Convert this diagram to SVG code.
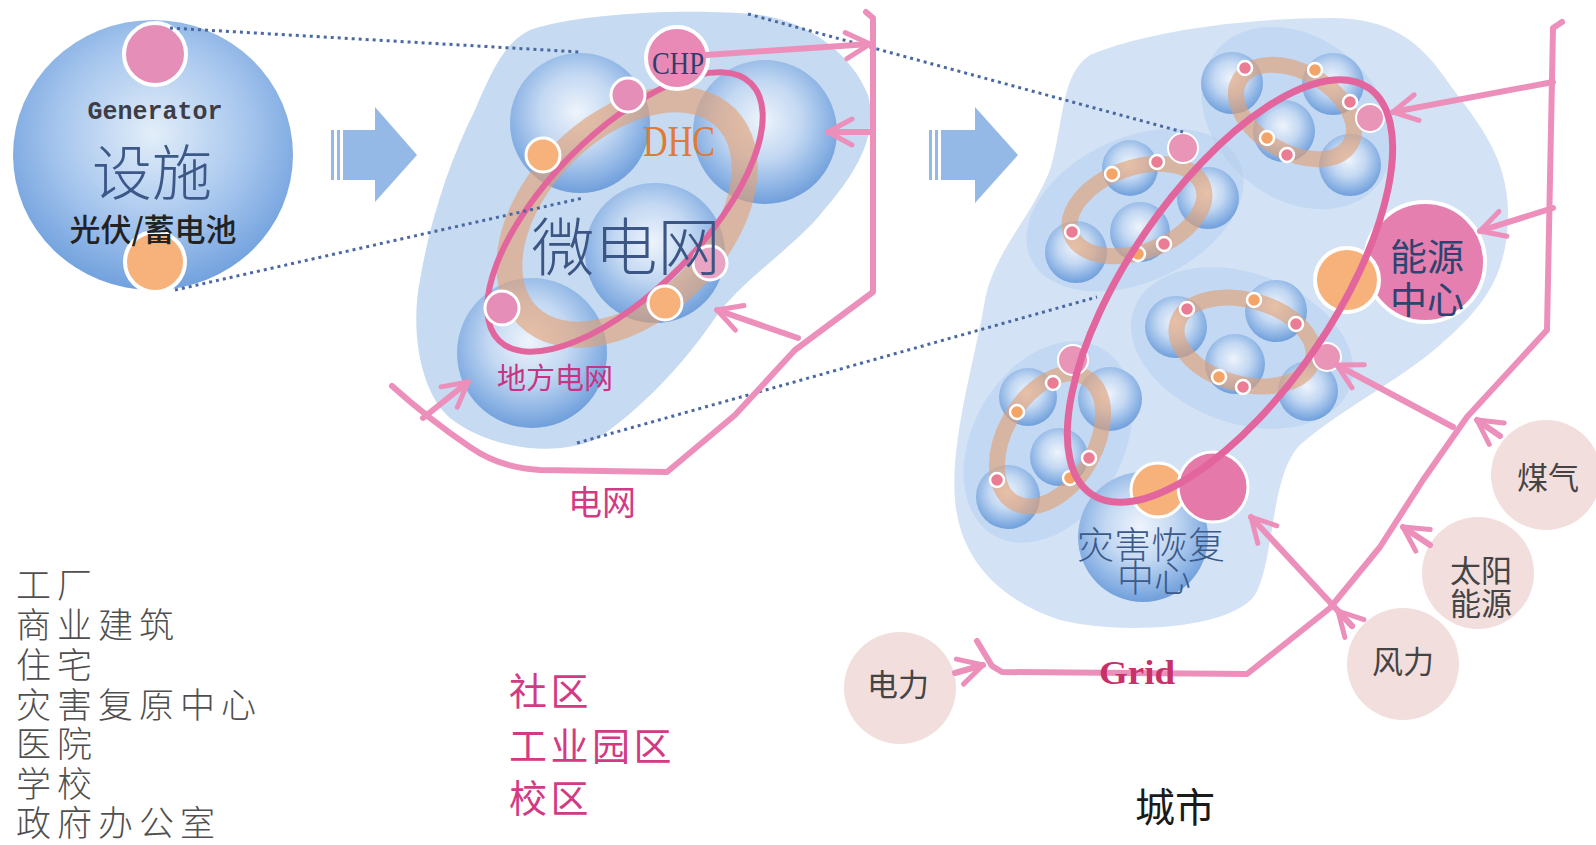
<svg xmlns="http://www.w3.org/2000/svg" width="1596" height="845" viewBox="0 0 1596 845">
<defs>
  <radialGradient id="sphere" cx="0.48" cy="0.42" r="0.6">
    <stop offset="0" stop-color="#eef4fc"/>
    <stop offset="0.45" stop-color="#c3d8f2"/>
    <stop offset="0.8" stop-color="#8ab2e4"/>
    <stop offset="1" stop-color="#6b9bd9"/>
  </radialGradient>
  <radialGradient id="genGrad" cx="0.5" cy="0.42" r="0.6">
    <stop offset="0" stop-color="#e3eef9"/>
    <stop offset="0.55" stop-color="#a8c7ee"/>
    <stop offset="1" stop-color="#6d9edc"/>
  </radialGradient>
  <marker id="chev" viewBox="-32 -20 38 40" refX="0" refY="0" markerWidth="38" markerHeight="40" markerUnits="userSpaceOnUse" orient="auto">
    <path d="M-24,-13 L0,0 L-24,13" fill="none" stroke="#ec90bb" stroke-width="5" stroke-linecap="round" stroke-linejoin="round"/>
  </marker>
</defs>
<style>
  .cjk{font-family:"Noto Sans CJK SC","Noto Sans",sans-serif}
  .serif{font-family:"Liberation Serif","Times New Roman",serif}
  .sph{fill:url(#sphere)}
  .cbg{fill:#b7cfee;opacity:.55}
  .oring{fill:none;stroke:#e3a073;stroke-opacity:.62}
  .pring{fill:none;stroke:#e2659d}
  .dotO{fill:#f3a466;stroke:#fff;stroke-width:2.5}
  .dotP{fill:#ea7c93;stroke:#fff;stroke-width:2.5}
  .wire{fill:none;stroke:#ec90bb;stroke-width:6;stroke-linecap:round;stroke-linejoin:round}
  .arr{marker-end:url(#chev)}
  .dots{fill:none;stroke:#4a69a3;stroke-width:3;stroke-dasharray:3 4}
  .src{fill:#f3dede}
  .srcTxt{fill:#444;font-size:31px;text-anchor:middle}
  .block{fill:#95b9e6}
  .list{fill:#4f4f4f;font-size:35px;letter-spacing:6px;font-weight:300}
  .zone{fill:#d23b84;font-size:38px;letter-spacing:3.5px}
</style>

<rect width="1596" height="845" fill="#ffffff"/>

<!-- generator / facility -->
<g id="generator">
  <ellipse cx="153" cy="155" rx="140" ry="135" fill="url(#genGrad)"/>
  <circle cx="155" cy="54" r="31" fill="#e58fb8" stroke="#fff" stroke-width="4"/>
  <circle cx="155" cy="262" r="30" fill="#f6b27a" stroke="#fff" stroke-width="4"/>
  <text x="155" y="119" text-anchor="middle" font-family="Liberation Mono, Courier New, monospace" font-weight="bold" font-size="25" fill="#3d3d47">Generator</text>
  <text x="152" y="195" text-anchor="middle" class="cjk" font-size="60" font-weight="300" fill="#3b5889">设施</text>
  <text x="153" y="241" text-anchor="middle" class="cjk" font-size="31" font-weight="500" fill="#222">光伏/蓄电池</text>
</g>

<!-- block arrows -->
<g id="step-arrow-1" class="block">
  <rect x="331" y="130" width="3" height="50"/>
  <rect x="337" y="130" width="3" height="50"/>
  <rect x="343" y="130" width="33" height="50"/>
  <polygon points="375,107 417,155 375,202"/>
</g>
<g id="step-arrow-2" class="block">
  <rect x="929" y="130" width="3" height="50"/>
  <rect x="935" y="130" width="3" height="50"/>
  <rect x="941" y="130" width="35" height="50"/>
  <polygon points="975,107 1018,155 975,203"/>
</g>

<!-- microgrid -->
<g id="microgrid">
  <path d="M530,30 C580,12 700,8 760,15 C810,22 852,55 868,95 C880,140 850,180 820,215 C790,250 740,282 715,318 C690,355 650,402 600,437 C560,458 490,450 450,418 C420,392 410,330 420,280 C430,220 450,160 475,110 C492,70 505,42 530,30 Z" fill="#c6daf1"/>
  <circle class="sph" cx="580" cy="123" r="70"/>
  <circle class="sph" cx="765" cy="132" r="72"/>
  <circle class="sph" cx="655" cy="253" r="70"/>
  <circle class="sph" cx="532" cy="353" r="75"/>
  <ellipse class="oring" cx="627" cy="217" rx="140" ry="90" transform="rotate(-45 627 217)" stroke-width="26"/>
  <ellipse class="pring" cx="625" cy="212" rx="180" ry="78" transform="rotate(-45.6 625 212)" stroke-width="6"/>
  <circle cx="628" cy="95" r="17" fill="#e58fb8" stroke="#fff" stroke-width="3"/>
  <circle cx="543" cy="155" r="17" fill="#f6b27a" stroke="#fff" stroke-width="3"/>
  <circle cx="710" cy="263" r="17" fill="#e9a3c3" stroke="#fff" stroke-width="3"/>
  <circle cx="665" cy="303" r="17" fill="#f6b27a" stroke="#fff" stroke-width="3"/>
  <circle cx="502" cy="308" r="17" fill="#e58fb8" stroke="#fff" stroke-width="3"/>
  <text x="679" y="156" text-anchor="middle" class="serif" font-size="44" textLength="72" lengthAdjust="spacingAndGlyphs" fill="#e07a34">DHC</text>
  <text x="626" y="270" text-anchor="middle" class="cjk" font-size="63" font-weight="300" fill="#3b5585">微电网</text>
  <text x="497" y="389" class="cjk" font-size="29" fill="#c83383">地方电网</text>
</g>
<g id="chp">
  <circle cx="677" cy="58" r="31" fill="#e88ab5" stroke="#fff" stroke-width="4"/>
  <text x="678" y="74" text-anchor="middle" class="serif" font-size="32" textLength="52" lengthAdjust="spacingAndGlyphs" fill="#2c3e6e">CHP</text>
</g>
<g id="grid-label-mid">
  <text x="568" y="515" class="cjk" font-size="34" fill="#d23a86">电网</text>
</g>

<!-- city -->
<g id="city">
  <path d="M1090,55 C1150,30 1250,18 1330,18 C1390,18 1420,40 1450,85 C1480,125 1510,160 1508,220 C1506,280 1480,310 1440,345 C1400,380 1340,410 1300,445 C1270,475 1275,560 1255,595 C1230,630 1120,635 1060,620 C1000,600 960,560 955,500 C950,440 975,360 985,300 C995,250 1030,220 1050,170 C1065,120 1060,75 1090,55 Z" fill="#d3e3f5"/>
  <ellipse class="cbg" cx="1297" cy="118" rx="105" ry="80" transform="rotate(40 1297 118)"/>
  <ellipse class="cbg" cx="1135" cy="210" rx="115" ry="72" transform="rotate(-25 1135 210)"/>
  <ellipse class="cbg" cx="1242" cy="348" rx="115" ry="75" transform="rotate(20 1242 348)"/>
  <ellipse class="cbg" cx="1048" cy="442" rx="108" ry="75" transform="rotate(-60 1048 442)"/>
</g>
<g id="cluster-1">
  <circle class="sph" cx="1232" cy="83" r="31"/>
  <circle class="sph" cx="1333" cy="84" r="31"/>
  <circle class="sph" cx="1284" cy="131" r="31"/>
  <circle class="sph" cx="1350" cy="165" r="31"/>
  <ellipse class="oring" cx="1295" cy="112" rx="64" ry="40" transform="rotate(30 1295 112)" stroke-width="16"/>
  <circle class="dotP" cx="1245" cy="68" r="7"/>
  <circle class="dotO" cx="1315" cy="70" r="7"/>
  <circle class="dotP" cx="1350" cy="102" r="7"/>
  <circle class="dotO" cx="1267" cy="138" r="7"/>
  <circle class="dotP" cx="1287" cy="155" r="7"/>
</g>
<g id="cluster-2">
  <circle class="sph" cx="1130" cy="168" r="28"/>
  <circle class="sph" cx="1208" cy="198" r="31"/>
  <circle class="sph" cx="1140" cy="232" r="30"/>
  <circle class="sph" cx="1076" cy="252" r="31"/>
  <ellipse class="oring" cx="1137" cy="210" rx="70" ry="42" transform="rotate(-20 1137 210)" stroke-width="16"/>
  <circle class="dotO" cx="1112" cy="174" r="7"/>
  <circle class="dotP" cx="1157" cy="162" r="7"/>
  <circle class="dotP" cx="1072" cy="232" r="7"/>
  <circle class="dotO" cx="1138" cy="254" r="7"/>
  <circle class="dotP" cx="1164" cy="244" r="7"/>
</g>
<g id="cluster-3">
  <circle class="sph" cx="1176" cy="327" r="31"/>
  <circle class="sph" cx="1276" cy="311" r="31"/>
  <circle class="sph" cx="1235" cy="364" r="30"/>
  <circle class="sph" cx="1308" cy="391" r="30"/>
  <ellipse class="oring" cx="1245" cy="342" rx="70" ry="42" transform="rotate(15 1245 342)" stroke-width="16"/>
  <circle class="dotP" cx="1187" cy="309" r="7"/>
  <circle class="dotO" cx="1254" cy="300" r="7"/>
  <circle class="dotP" cx="1296" cy="324" r="7"/>
  <circle class="dotO" cx="1219" cy="377" r="7"/>
  <circle class="dotP" cx="1243" cy="387" r="7"/>
</g>
<g id="cluster-4">
  <circle class="sph" cx="1028" cy="397" r="29"/>
  <circle class="sph" cx="1110" cy="399" r="32"/>
  <circle class="sph" cx="1059" cy="457" r="29"/>
  <circle class="sph" cx="1008" cy="497" r="32"/>
  <ellipse class="oring" cx="1050" cy="440" rx="72" ry="45" transform="rotate(-60 1050 440)" stroke-width="16"/>
  <circle class="dotP" cx="1053" cy="383" r="7"/>
  <circle class="dotO" cx="1017" cy="412" r="7"/>
  <circle class="dotP" cx="997" cy="480" r="7"/>
  <circle class="dotO" cx="1070" cy="478" r="7"/>
  <circle class="dotP" cx="1089" cy="458" r="7"/>
</g>
<g id="disaster-center">
  <circle class="sph" cx="1143" cy="537" r="65"/>
  <circle cx="1158" cy="490" r="27" fill="#f6b27a" stroke="#fff" stroke-width="3"/>
  <circle cx="1213" cy="487" r="35" fill="#e579a9" stroke="#fff" stroke-width="3"/>
</g>
<g id="energy-center">
  <circle cx="1425" cy="262" r="60" fill="#e57fb0" stroke="#fff" stroke-width="4"/>
  <circle cx="1347" cy="280" r="32" fill="#f6b27a" stroke="#fff" stroke-width="4"/>
</g>
<g id="city-ring">
  <circle cx="1183" cy="148" r="15" fill="#e895b8" stroke="#fff" stroke-width="2"/>
  <circle cx="1073" cy="360" r="15" fill="#e895b8" stroke="#fff" stroke-width="2"/>
  <circle cx="1370" cy="118" r="14" fill="#e895b8" stroke="#fff" stroke-width="2"/>
  <circle cx="1327" cy="357" r="14" fill="#e895b8" stroke="#fff" stroke-width="2"/>
  <ellipse class="pring" cx="1230" cy="291" rx="246" ry="103" transform="rotate(-55.7 1230 291)" stroke-width="7"/>
</g>
<g id="labels-city">
  <text x="1390" y="271" class="cjk" font-size="37" fill="#2e4470">能源</text>
  <text x="1390" y="314" class="cjk" font-size="37" fill="#2e4470">中心</text>
  <text x="1077" y="559" class="cjk" font-size="37" font-weight="300" fill="#3b5a8a">灾害恢复</text>
  <text x="1117" y="592" class="cjk" font-size="37" font-weight="300" fill="#3b5a8a">中心</text>
</g>

<!-- energy sources -->
<g id="src-gas">
  <circle class="src" cx="1546" cy="475" r="55"/>
  <text class="cjk srcTxt" x="1548" y="489">煤气</text>
</g>
<g id="src-solar">
  <circle class="src" cx="1478" cy="573" r="56"/>
  <text class="cjk srcTxt" x="1481" y="582" font-size="28">太阳</text>
  <text class="cjk srcTxt" x="1481" y="615" font-size="28">能源</text>
</g>
<g id="src-wind">
  <circle class="src" cx="1403" cy="664" r="56"/>
  <text class="cjk srcTxt" x="1403" y="673">风力</text>
</g>
<g id="src-power">
  <circle class="src" cx="900" cy="688" r="56"/>
  <text class="cjk srcTxt" x="898" y="696">电力</text>
</g>

<!-- connectors -->
<g id="connectors">
  <path class="dots" d="M170,28 L580,52"/>
  <path class="dots" d="M175,290 L583,198"/>
  <path class="dots" d="M748,14 L1183,132"/>
  <path class="dots" d="M577,443 L1097,297"/>

  <path class="wire" d="M392,386 Q430,420 470,447 Q500,468 540,470 L667,472 L735,415 L795,350 L873,292 L873,18 L866,12"/>
  <path class="wire arr" d="M706,55 L870,44"/>
  <path class="wire arr" d="M873,132 L828,132"/>
  <path class="wire arr" d="M798,338 L717,310"/>
  <path class="wire arr" d="M423,418 L468,382"/>

  <path class="wire" d="M977,641 L992,666 L1002,672 L1247,674 L1330,608 L1380,547 L1423,480 L1467,417 L1547,330 L1553,28 L1562,22"/>
  <path class="wire arr" d="M955,673 L983,665"/>
  <path class="wire arr" d="M1553,82 L1393,112"/>
  <path class="wire arr" d="M1553,208 L1480,231"/>
  <path class="wire arr" d="M1453,427 L1337,365"/>
  <path class="wire arr" d="M1500,436 L1477,420"/>
  <path class="wire arr" d="M1430,545 L1403,527"/>
  <path class="wire arr" d="M1352,626 L1251,517"/>
  <path class="wire arr" d="M1352,626 L1338,611"/>
</g>

<g id="grid-label">
  <text x="1099" y="684" class="serif" font-weight="bold" font-size="34" textLength="76" lengthAdjust="spacingAndGlyphs" fill="#c8306a">Grid</text>
</g>
<g id="city-title">
  <text x="1175" y="822" text-anchor="middle" class="cjk" font-size="40" fill="#1a1a1a">城市</text>
</g>

<!-- facility lists -->
<g id="facility-list" class="cjk list">
  <text x="16" y="598">工厂</text>
  <text x="16" y="638">商业建筑</text>
  <text x="16" y="678">住宅</text>
  <text x="16" y="718">灾害复原中心</text>
  <text x="16" y="757">医院</text>
  <text x="16" y="797">学校</text>
  <text x="16" y="836">政府办公室</text>
</g>
<g id="zone-list" class="cjk zone">
  <text x="509" y="705">社区</text>
  <text x="509" y="760">工业园区</text>
  <text x="509" y="812">校区</text>
</g>
</svg>
